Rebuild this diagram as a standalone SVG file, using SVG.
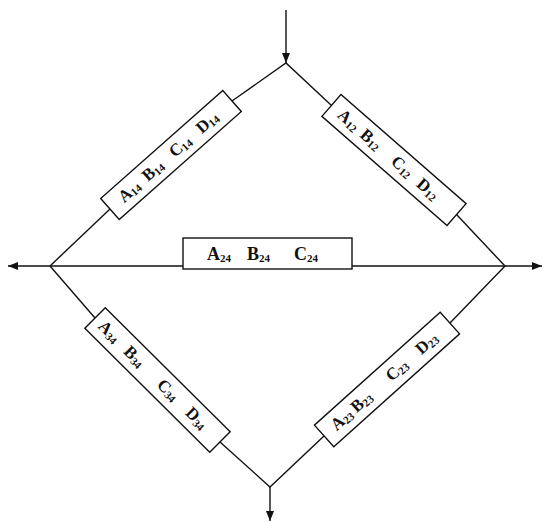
<svg xmlns="http://www.w3.org/2000/svg" width="546" height="522" viewBox="0 0 546 522">
<style>
.ln{stroke:#111;stroke-width:1.4;fill:none}
.bx{fill:#fff;stroke:#111;stroke-width:1.4}
.lb{font-family:"Liberation Serif","Times New Roman",serif;font-weight:bold;font-size:17px;fill:#111}
.big{font-size:18px}
.s{font-size:11px}
</style>
<defs>
<marker id="arr" markerUnits="userSpaceOnUse" markerWidth="10" markerHeight="8" refX="10" refY="4" orient="auto">
<path d="M0,0 L10,4 L0,8 z" fill="#111"/>
</marker>
</defs>
<rect width="546" height="522" fill="#fff"/>
<g id="connectors">
<line class="ln" x1="286" y1="10" x2="286" y2="63" stroke-width="2" marker-end="url(#arr)"/>
<line class="ln" x1="183" y1="266" x2="8" y2="266" marker-end="url(#arr)"/>
<line class="ln" x1="352" y1="266" x2="542" y2="266" marker-end="url(#arr)"/>
<line class="ln" x1="270" y1="487" x2="270" y2="521" marker-end="url(#arr)"/>
<polyline class="ln" points="50,266 110,209"/>
<polyline class="ln" points="232,101 286,63 331.5,105.4"/>
<polyline class="ln" points="456.5,214.6 505,266 450,323"/>
<polyline class="ln" points="50,266 95,318"/>
<polyline class="ln" points="220,442 270,487 324,436"/>
</g>
<g id="n14" transform="translate(171,155) rotate(-41.5)">
<rect class="bx" x="-81.5" y="-14" width="163" height="28"/>
<text class="lb"><tspan x="-67" y="5">A</tspan><tspan class="s" y="7">14</tspan><tspan x="-35" y="5">B</tspan><tspan class="s" y="7">14</tspan><tspan x="1" y="5">C</tspan><tspan class="s" y="7">14</tspan><tspan x="37" y="5">D</tspan><tspan class="s" y="7">14</tspan></text>
</g>
<g id="n12" transform="translate(394,160) rotate(41.1)">
<rect class="bx" x="-83" y="-14.5" width="166" height="29" stroke-width="1.8"/>
<text class="lb"><tspan x="-72" y="5">A</tspan><tspan class="s" y="7">12</tspan><tspan x="-42" y="5">B</tspan><tspan class="s" y="7">12</tspan><tspan x="-1" y="5">C</tspan><tspan class="s" y="7">12</tspan><tspan x="33" y="5">D</tspan><tspan class="s" y="7">12</tspan></text>
</g>
<g id="n24">
<rect class="bx" x="183" y="238" width="169" height="31"/>
<text class="lb big"><tspan x="207" y="260">A</tspan><tspan class="s" y="262">24</tspan><tspan x="247" y="260">B</tspan><tspan class="s" y="262">24</tspan><tspan x="294" y="260">C</tspan><tspan class="s" y="262">24</tspan></text>
</g>
<g id="n34" transform="translate(157.5,380) rotate(44.8)">
<rect class="bx" x="-88" y="-14.5" width="176" height="29"/>
<text class="lb"><tspan x="-80" y="5">A</tspan><tspan class="s" y="7">34</tspan><tspan x="-44" y="5">B</tspan><tspan class="s" y="7">34</tspan><tspan x="3" y="5">C</tspan><tspan class="s" y="7">34</tspan><tspan x="43" y="5">D</tspan><tspan class="s" y="7">34</tspan></text>
</g>
<g id="n23" transform="translate(387,379.5) rotate(-41.9)">
<rect class="bx" x="-84.5" y="-14.5" width="169" height="29"/>
<text class="lb"><tspan x="-72" y="5">A</tspan><tspan class="s" y="7">23</tspan><tspan x="-45" y="5">B</tspan><tspan class="s" y="7">23</tspan><tspan x="2" y="5">C</tspan><tspan class="s" y="7">23</tspan><tspan x="42" y="5">D</tspan><tspan class="s" y="7">23</tspan></text>
</g>
</svg>
